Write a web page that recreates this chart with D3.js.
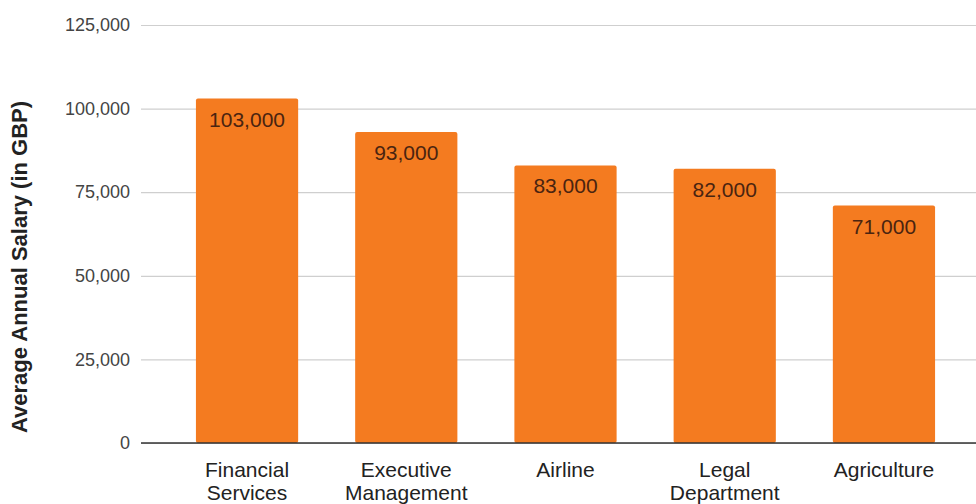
<!DOCTYPE html>
<html>
<head>
<meta charset="utf-8">
<script src="https://cdn.jsdelivr.net/npm/d3@7"></script>
<style>
  body{margin:0;background:#fff;}
  svg{font-family:"Liberation Sans",Arial,sans-serif;display:block;}
</style>
</head>
<body>
<div id="salary_bar"></div>
<script>
/*Average salary bars*/
var categories = [["Financial","Services"],["Executive","Management"],["Airline"],["Legal","Department"],["Agriculture"]];
var salaries = [103000,93000,83000,82000,71000];
var yTicks = [0,25000,50000,75000,100000,125000];

var W = 976, H = 504;
var margin = {top:25,left:141,bottom:61};
var h = H - margin.top - margin.bottom;

var svg = d3.select("#salary_bar")
  .append("svg")
  .attr("width",W)
  .attr("height",H);

var keys = categories.map(function(c){return c.join(" ");});

var xScale = d3.scaleBand()
  .domain(keys)
  .range([margin.left,990])
  .paddingInner(0.358)
  .paddingOuter(0.345);

var yScale = d3.scaleLinear()
  .domain([0,125000])
  .range([margin.top+h,margin.top]);

// gridlines + tick labels
var yAxis = svg.append("g")
  .attr("transform","translate("+margin.left+",0)")
  .call(d3.axisLeft(yScale).tickValues(yTicks).tickSize(-(W-margin.left)).tickPadding(11).tickFormat(d3.format(",")));
yAxis.select(".domain").remove();
yAxis.selectAll(".tick line").attr("stroke","#cfcfcf").attr("stroke-width",1.2);
yAxis.selectAll(".tick text").attr("fill","#444").style("font-size","18px");

svg.append("text")
  .attr("transform","translate(27,267)rotate(-90)")
  .attr("text-anchor","middle")
  .attr("font-weight","bold")
  .attr("fill","#222")
  .style("font-size","22px")
  .text("Average Annual Salary (in GBP)");

svg.selectAll("rect.bar")
  .data(salaries).enter()
  .append("rect")
  .attr("class","bar")
  .attr("x",function(d,i){return xScale(keys[i]);})
  .attr("width",xScale.bandwidth())
  .attr("y",function(d){return yScale(d);})
  .attr("height",function(d){return yScale(0)-yScale(d);})
  .attr("rx",2)
  .attr("fill","#f47b20");

// baseline
svg.append("line")
  .attr("x1",margin.left).attr("x2",W)
  .attr("y1",yScale(0)).attr("y2",yScale(0))
  .attr("stroke","#333").attr("stroke-width",1.5);

svg.selectAll("text.val")
  .data(salaries).enter()
  .append("text")
  .attr("class","val")
  .attr("x",function(d,i){return xScale(keys[i])+xScale.bandwidth()/2;})
  .attr("y",function(d){return yScale(d)+28;})
  .attr("text-anchor","middle")
  .attr("fill","#4a2410")
  .style("font-size","21px")
  .text(function(d){return d3.format(",")(d);});

var xl = svg.selectAll("text.cat")
  .data(categories).enter()
  .append("text")
  .attr("class","cat")
  .attr("text-anchor","middle")
  .attr("fill","#222")
  .style("font-size","21px")
  .attr("x",function(d,i){return xScale(keys[i])+xScale.bandwidth()/2;})
  .attr("y",yScale(0)+34);
xl.selectAll("tspan")
  .data(function(d){return d;}).enter()
  .append("tspan")
  .attr("x",function(){return d3.select(this.parentNode).attr("x");})
  .attr("dy",function(d,i){return i?23:0;})
  .text(function(d){return d;});
</script>
</body>
</html>
